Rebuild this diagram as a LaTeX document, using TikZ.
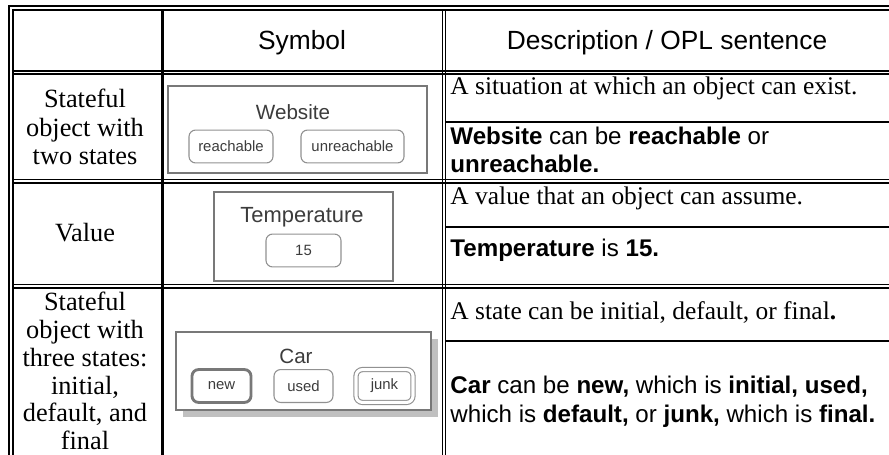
\documentclass[tikz,border=0pt]{standalone}
\usepackage{fontspec}
\setmainfont{Liberation Serif}
\setsansfont{Liberation Sans}
\usepackage{tikz}
\usetikzlibrary{positioning}
\definecolor{boxgray}{RGB}{120,120,120}
\definecolor{stategray}{RGB}{145,145,145}
\definecolor{labelgray}{RGB}{60,60,60}
\definecolor{shadowgray}{RGB}{192,192,192}

\begin{document}
\begin{tikzpicture}[x=0.456pt, y=-0.456pt,
    rule/.style={line width=0.75pt},
    hdr/.style={font=\sffamily\fontsize{12}{13}\selectfont},
    kind/.style={align=center, inner sep=0pt, font=\fontsize{12}{13}\selectfont},
    desc/.style={anchor=west, inner sep=0pt, font=\fontsize{11.6}{13}\selectfont},
    opl/.style={anchor=west, inner sep=0pt, align=left, font=\sffamily\fontsize{11}{13}\selectfont},
    objbox/.style={draw=boxgray, line width=0.9pt, fill=white},
    objlabel/.style={text=labelgray, font=\sffamily\fontsize{9.4}{11}\selectfont},
    statebox/.style={draw=stategray, line width=0.5pt, rounded corners=3pt, inner sep=0pt,
        minimum height=15pt, text=labelgray, font=\sffamily\fontsize{6.8}{8}\selectfont}]
    \useasboundingbox (0,0) rectangle (889,455);

    % symbols
    \draw[objbox] (168,86) rectangle (427,173);
    \node[objlabel] (website) at (293,112) {Website};
    \node[statebox, minimum width=38.3pt] (reachable) at (231,146.5) {reachable};
    \node[statebox, minimum width=47pt] (unreachable) at (352.5,146.5) {unreachable};

    \draw[objbox] (214,192) rectangle (393,281);
    \node[objlabel, font=\sffamily\fontsize{10}{12}\selectfont] (temperature) at (302,217) {Temperature};
    \node[statebox, minimum width=34.2pt] (fifteen) at (303.5,250.5) {15};

    \fill[shadowgray] (183,339) rectangle (438,417);
    \draw[objbox] (176,332) rectangle (431,410);
    \node[objlabel] (car) at (296,356) {Car};
    \node[statebox, minimum width=26.9pt, line width=1.3pt, draw=boxgray] (new) at (221.5,386) {new};
    \node[statebox, minimum width=26.9pt] (used) at (303.5,386) {used};
    \node[statebox, minimum width=26pt, double=white, double distance=1.4pt] (junk) at (384.5,386) {junk};

    % table rules
    \draw[rule] (9,455) -- (9,6) -- (889,6);
    \draw[rule] (12.7,455) -- (12.7,10) -- (889,10);
    \draw[line width=1.8pt] (162.5,10) -- (162.5,455);
    \draw[rule] (442.5,10) -- (442.5,455);
    \draw[rule] (445.5,10) -- (445.5,455);
    \foreach \y in {71,179.5,284.5} {
        \draw[rule] (12.7,\y) -- (889,\y);
        \draw[rule] (12.7,\y+3.3) -- (889,\y+3.3);
    }
    \foreach \y in {122,227,341}
        \draw[rule] (445.5,\y) -- (889,\y);

    % headers
    \node[hdr] (symhead) at (302,43) {Symbol};
    \node[hdr] (deschead) at (667,43) {Description / OPL sentence};

    % first column
    \node[kind] (kindstate) at (85,127) {Stateful\\object with\\two states};
    \node[kind] (kindvalue) at (85,233) {Value};
    \node[kind, font=\fontsize{12}{12.7}\selectfont] (kindthree) at (85,371) {Stateful\\object with\\three states:\\initial,\\default, and\\final};

    % descriptions and OPL sentences
    \node[desc] (descstate) at (450,88) {A situation at which an object can exist.};
    \node[opl] (oplstate) at (450,150) {\textbf{Website} can be \textbf{reachable} or\\\textbf{unreachable.}};
    \node[desc] (descvalue) at (450,198) {A value that an object can assume.};
    \node[opl] (oplvalue) at (450,250) {\textbf{Temperature} is \textbf{15.}};
    \node[desc] (descthree) at (450,312) {A state can be initial, default, or final\textbf{.}};
    \node[opl] (oplthree) at (450,402) {\textbf{Car} can be \textbf{new,} which is \textbf{initial, used,}\\which is \textbf{default,} or \textbf{junk,} which is \textbf{final.}};
\end{tikzpicture}
\end{document}
